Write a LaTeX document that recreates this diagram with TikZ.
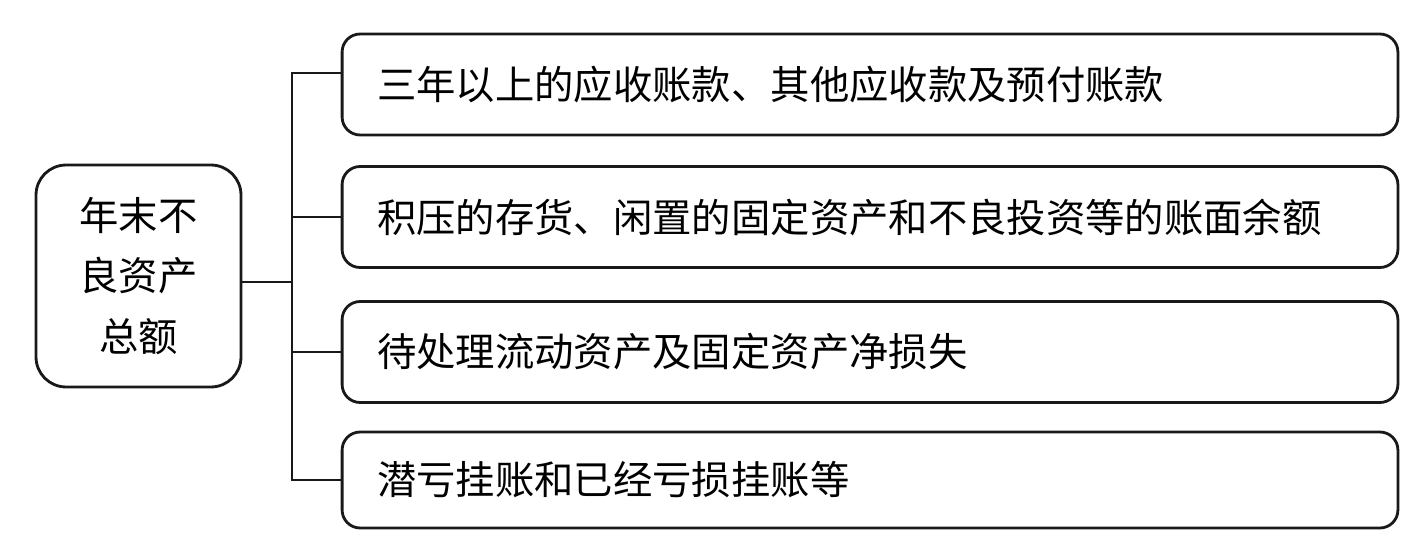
\documentclass[tikz,border=0pt]{standalone}
\usepackage{fontspec}
\setmainfont{Noto Sans CJK SC}
\usepackage{tikz}

\begin{document}
\begin{tikzpicture}[x=0.02cm, y=-0.02cm, line width=1.6pt, draw=black!90,
		box/.style={draw, rounded corners=0.36cm, font=\fontsize{22.4}{34.6}\selectfont},
		rootbox/.style={box, rounded corners=0.6cm, align=center, minimum width=4.1cm, minimum height=4.44cm},
		itembox/.style={box, align=left, text width=19.72cm, inner xsep=0.7cm, minimum height=2.02cm}]
	\useasboundingbox (0,0) rectangle (1425,554);
	\node[rootbox] (root) at (138.5, 276) {年末不\\良资产\\总额};
	\node[itembox] (b1) at (870, 84.5) {三年以上的应收账款、其他应收款及预付账款};
	\node[itembox] (b2) at (870, 217) {积压的存货、闲置的固定资产和不良投资等的账面余额};
	\node[itembox] (b3) at (870, 352) {待处理流动资产及固定资产净损失};
	\node[itembox, minimum height=1.92cm] (b4) at (870, 480) {潜亏挂账和已经亏损挂账等};
	\coordinate (t1) at (292, 73);
	\coordinate (j) at (292, 282);
	\draw (root.east |- j) -- (j);
	\draw (b1.west |- t1) -- (t1) -- (t1 |- b4.west) -- (b4.west);
	\foreach \i in {2,3}
		\draw (t1 |- b\i.west) -- (b\i.west);
\end{tikzpicture}
\end{document}
